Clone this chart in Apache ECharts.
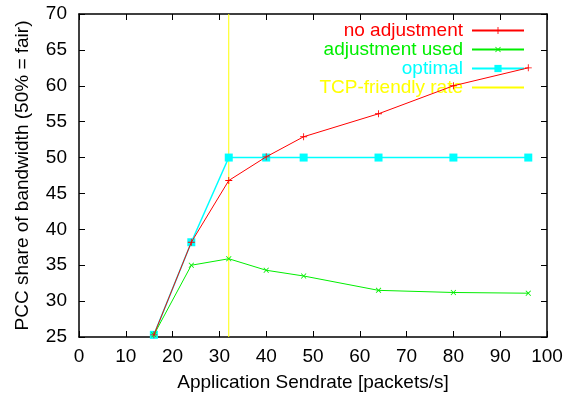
<!DOCTYPE html>
<html><head><meta charset="utf-8">
<script src="https://cdn.jsdelivr.net/npm/echarts@6/dist/echarts.min.js"></script>
<style>html,body{margin:0;padding:0;background:#fff}#c{width:568px;height:398px}</style>
</head><body><div id="c"></div>
<script>
const xs = [16, 24, 32, 40, 48, 64, 80, 96];
const noAdjustment = [25.3, 38.2, 46.8, 50.1, 52.9, 56.1, 60.0, 62.5];
const adjustmentUsed = [25.3, 35.0, 35.9, 34.3, 33.5, 31.5, 31.2, 31.1];
const optimal = [25.3, 38.2, 50.0, 50.0, 50.0, 50.0, 50.0, 50.0];
const tcpFriendlyX = 32;
const yRange = [25, 70];
const xRange = [0, 100];

const FONT = 'Liberation Sans';
const FS = 19;
const plusPath = 'path://M4.4,0H5.6V4.4H10V5.6H5.6V10H4.4V5.6H0V4.4H4.4Z';
function pts(ys){ return xs.map((x,i)=>[x, ys[i]]); }

const chart = echarts.init(document.getElementById('c'), null, {renderer:'canvas'});
const axisCommon = {
  axisLine:{show:true, onZero:false, lineStyle:{color:'#000', width:1.5}},
  axisTick:{show:true, inside:true, length:6, lineStyle:{color:'#000', width:1}},
  splitLine:{show:false},
  axisLabel:{color:'#000', fontFamily:FONT, fontSize:FS}
};
chart.setOption({
  animation:false,
  textStyle:{fontFamily:FONT},
  grid:{left:79, right:21, top:14, bottom:61, containLabel:false},
  legend:{
    orient:'vertical', right:38, top:16, align:'right', itemGap:0,
    itemWidth:52, itemHeight:9,
    textStyle:{fontFamily:FONT, fontSize:FS, padding:[0,4,0,0]},
    data:[
      {name:'no adjustment', textStyle:{color:'#ff0000'}},
      {name:'adjustment used', textStyle:{color:'#00ee00'}},
      {name:'optimal', textStyle:{color:'#00ffff'}},
      {name:'TCP-friendly rate', itemStyle:{color:'rgba(0,0,0,0)', opacity:0, borderWidth:0}, textStyle:{color:'#ffff00'}}
    ]
  },
  xAxis:[
    Object.assign({type:'value', min:xRange[0], max:xRange[1], interval:10, position:'bottom',
      name:'Application Sendrate [packets/s]', nameLocation:'middle', nameGap:36,
      nameTextStyle:{color:'#000', fontFamily:FONT, fontSize:FS}}, axisCommon,
      {axisLabel:Object.assign({}, axisCommon.axisLabel, {margin:10})}),
    Object.assign({type:'value', min:xRange[0], max:xRange[1], interval:10, position:'top'}, axisCommon,
      {axisLabel:{show:false}})
  ],
  yAxis:[
    Object.assign({type:'value', min:yRange[0], max:yRange[1], interval:5, position:'left',
      name:'PCC share of bandwidth (50% = fair)', nameLocation:'middle', nameGap:47, nameRotate:90,
      nameTextStyle:{color:'#000', fontFamily:FONT, fontSize:FS}}, axisCommon,
      {axisLabel:Object.assign({}, axisCommon.axisLabel, {margin:12})}),
    Object.assign({type:'value', min:yRange[0], max:yRange[1], interval:5, position:'right'}, axisCommon,
      {axisLabel:{show:false}})
  ],
  series:[
    {name:'TCP-friendly rate', type:'line', data:[[tcpFriendlyX, yRange[0]],[tcpFriendlyX, yRange[1]]],
      showSymbol:false, symbol:'none', lineStyle:{color:'#ffff00', width:1}, itemStyle:{color:'#ffff00'}, z:1},
    {name:'optimal', type:'line', data:pts(optimal), symbol:'rect', symbolSize:8,
      lineStyle:{color:'#00ffff', width:1.5}, itemStyle:{color:'#00ffff'}, z:2},
    {name:'adjustment used', type:'line', data:pts(adjustmentUsed), symbol:plusPath, symbolSize:7, symbolRotate:45,
      lineStyle:{color:'#00ee00', width:1}, itemStyle:{color:'#00ee00'}, z:3},
    {name:'no adjustment', type:'line', data:pts(noAdjustment), symbol:plusPath, symbolSize:7,
      lineStyle:{color:'#ff0000', width:1}, itemStyle:{color:'#ff0000'}, z:4}
  ]
});
</script></body></html>
